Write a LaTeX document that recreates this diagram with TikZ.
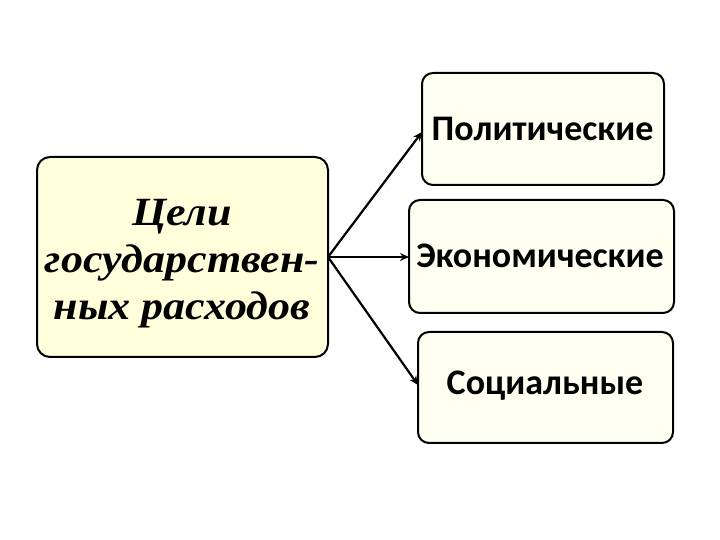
\documentclass[tikz,border=0pt]{standalone}
\usepackage{fontspec}
\setmainfont{Liberation Serif}
\newfontfamily\calib{Carlito}
\usetikzlibrary{arrows.meta}
\definecolor{leftfill}{HTML}{FFFFDC}
\definecolor{rightfill}{HTML}{FFFFF2}
\begin{document}
\begin{tikzpicture}[x=1pt,y=1pt,
  mainbox/.style={draw=black,line width=2pt,rounded corners=13pt,fill=leftfill},
  goalbox/.style={draw=black,line width=2pt,rounded corners=11pt,fill=rightfill},
  goaltext/.style={font=\calib\fontsize{36}{40}\selectfont\bfseries},
  conn/.style={line width=2.2pt,-{Stealth[length=9pt,width=8pt]}}]
\useasboundingbox (0,0) rectangle (720,540);
% left box
\draw[mainbox] (37,183) rectangle (328,383);
\node[align=center,font=\fontsize{40}{47}\selectfont\bfseries\itshape,xscale=1.1,transform shape] (main) at (182,276)
  {Цели\\государствен-\\ных расходов};
\coordinate (src) at (328,283);
% right boxes
\draw[goalbox] (422,355) rectangle (664,467);
\node[goaltext] (pol) at (542.5,411) {Политические};
\draw[goalbox] (409,227) rectangle (674,340);
\node[goaltext] (eco) at (540,284) {Экономические};
\draw[goalbox] (418,97) rectangle (673,208);
\node[goaltext] (soc) at (545,154) {Социальные};
\coordinate (tpol) at (422,408);
\coordinate (teco) at (409,283);
\coordinate (tsoc) at (418,155);
\draw[conn] (src) -- (tpol);
\draw[conn] (src) -- (teco);
\draw[conn] (src) -- (tsoc);
\end{tikzpicture}
\end{document}
